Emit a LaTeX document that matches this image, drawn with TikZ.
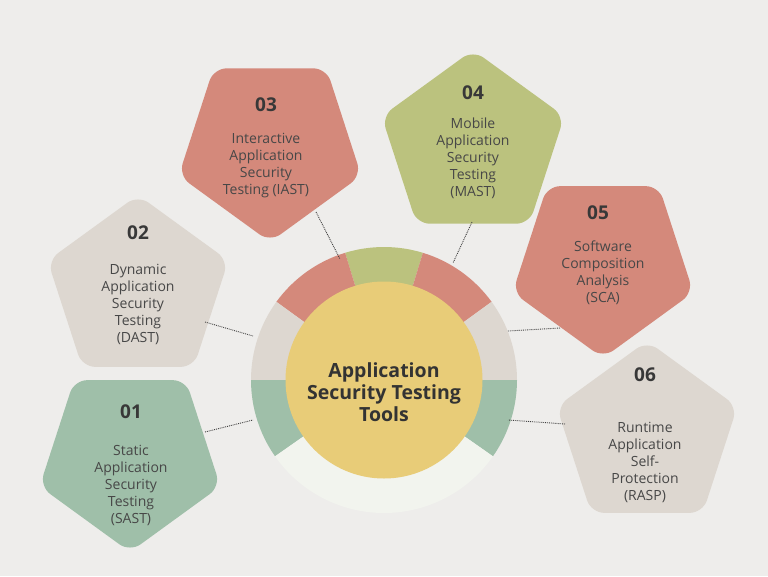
\documentclass[tikz,border=0pt]{standalone}
\usepackage{fontspec}
\setmainfont{Open Sans}
\begin{document}
\begin{tikzpicture}[x=1pt,y=-1pt,
  num/.style={font=\fontsize{19}{19}\selectfont\bfseries,text=black!78},
  body/.style={align=center,font=\fontsize{14}{17}\selectfont,text=black!72},
  conn/.style={densely dotted,line width=0.9pt,black!75}]
\definecolor{bg}{HTML}{EEEDEB}
\definecolor{cred}{HTML}{D4897B}
\definecolor{colive}{HTML}{BBC27E}
\definecolor{cbeige}{HTML}{DDD7D0}
\definecolor{csage}{HTML}{9FBFA9}
\definecolor{cyel}{HTML}{E8CC78}
\definecolor{clight}{HTML}{F2F4EE}
\fill[bg] (0,0) rectangle (768,576);
\useasboundingbox (0,0) rectangle (768,576);
% pentagons: center x, center y, R, rotation offset (90 = point up visually), colour
\newcommand\pentagon[5]{%
  \fill[#5,rounded corners=13pt] ({#1+#3*cos(#4)},{#2-#3*sin(#4)})
   -- ({#1+#3*cos(#4+72)},{#2-#3*sin(#4+72)})
   -- ({#1+#3*cos(#4+144)},{#2-#3*sin(#4+144)})
   -- ({#1+#3*cos(#4+216)},{#2-#3*sin(#4+216)})
   -- ({#1+#3*cos(#4+288)},{#2-#3*sin(#4+288)}) -- cycle;}
\pentagon{270}{146}{96}{-90}{cred}
\pentagon{473}{146}{96}{90}{colive}
\pentagon{138}{290}{95}{90}{cbeige}
\pentagon{130}{457}{95}{-90}{csage}
\pentagon{603}{263}{95}{-90}{cred}
\pentagon{647}{436}{95}{90}{cbeige}
% ring
\coordinate (c) at (384,380);
\fill[colive] (c) -- ++(-73:133) arc[start angle=-73,end angle=-107,radius=133] -- cycle;
\fill[cred] (c) -- ++(-36:133) arc[start angle=-36,end angle=-73,radius=133] -- cycle;
\fill[cred] (c) -- ++(-107:133) arc[start angle=-107,end angle=-144,radius=133] -- cycle;
\fill[cbeige] (c) -- ++(0:133) arc[start angle=0,end angle=-36,radius=133] -- cycle;
\fill[cbeige] (c) -- ++(-144:133) arc[start angle=-144,end angle=-180,radius=133] -- cycle;
\fill[csage] (c) -- ++(180:133) arc[start angle=180,end angle=145,radius=133] -- cycle;
\fill[csage] (c) -- ++(35:133) arc[start angle=35,end angle=0,radius=133] -- cycle;
\fill[clight] (c) -- ++(145:133) arc[start angle=145,end angle=35,radius=133] -- cycle;
\node[circle,fill=cyel,minimum size=197pt,inner sep=0pt] (hub) at (c) {};
\node[align=center,font=\fontsize{19.5}{22}\selectfont\bfseries,text=black!80] (title) at (384,392)
 {Application\\Security Testing\\Tools};
% texts
\node[num] (n03) at (266,105) {03};
\node[body] (t03) at (266,166) {Interactive\\Application\\Security\\Testing (IAST)};
\node[num] (n04) at (473,93) {04};
\node[body] (t04) at (473,158) {Mobile\\Application\\Security\\Testing\\(MAST)};
\node[num] (n02) at (138,233) {02};
\node[body] (t02) at (138,304) {Dynamic\\Application\\Security\\Testing\\(DAST)};
\node[num] (n01) at (131,412) {01};
\node[body] (t01) at (131,485) {Static\\Application\\Security\\Testing\\(SAST)};
\node[num] (n05) at (598,213) {05};
\node[body] (t05) at (603,273) {Software\\Composition\\Analysis\\(SCA)};
\node[num] (n06) at (645,375) {06};
\node[body] (t06) at (645,462) {Runtime\\Application\\Self-\\Protection\\(RASP)};
% connectors
\coordinate (a03) at (316,212); \coordinate (b03) at (340,259);
\coordinate (a04) at (472,222); \coordinate (b04) at (453,263);
\coordinate (a02) at (205,322); \coordinate (b02) at (253,336);
\coordinate (a01) at (205,432); \coordinate (b01) at (253,420);
\coordinate (a05) at (560,328); \coordinate (b05) at (508,331);
\coordinate (a06) at (565,424); \coordinate (b06) at (508,420);
\foreach \i in {03,04,02,01,05,06} \draw[conn] (a\i) -- (b\i);
\end{tikzpicture}
\end{document}
